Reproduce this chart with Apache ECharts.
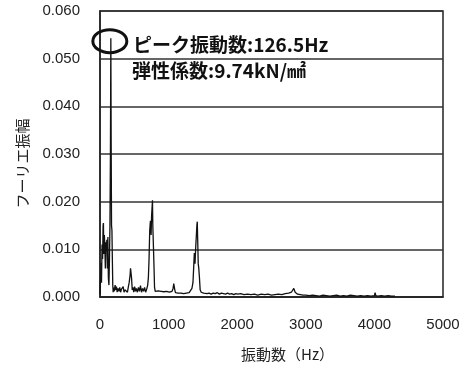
<!DOCTYPE html>
<html>
<head>
<meta charset="utf-8">
<script src="https://cdn.jsdelivr.net/npm/echarts@6/dist/echarts.min.js"></script>
<style>html,body{margin:0;padding:0;background:#fff;}#c{width:468px;height:371px;}</style>
</head>
<body>
<div id="c"></div>
<script>
const xTicks = [0, 1000, 2000, 3000, 4000, 5000];
const yTicks = [0, 0.01, 0.02, 0.03, 0.04, 0.05, 0.06];
const freqs = [0, 8, 15, 22, 30, 38, 45, 50, 56, 63, 70, 78, 85, 92, 100, 107, 115, 122, 130, 138, 145, 152, 158, 163, 168, 174, 180, 186, 192, 200, 210, 220, 230, 240, 250, 262, 275, 288, 300, 312, 325, 338, 350, 362, 375, 388, 400, 412, 425, 438, 445, 452, 460, 470, 480, 492, 505, 518, 530, 545, 560, 575, 590, 605, 620, 635, 650, 665, 680, 695, 705, 715, 725, 735, 745, 752, 758, 765, 770, 776, 782, 788, 795, 805, 815, 830, 850, 870, 890, 910, 930, 950, 970, 990, 1010, 1030, 1050, 1065, 1075, 1082, 1090, 1100, 1120, 1140, 1160, 1180, 1200, 1220, 1240, 1260, 1280, 1300, 1320, 1340, 1355, 1365, 1375, 1385, 1395, 1405, 1412, 1418, 1424, 1432, 1440, 1450, 1460, 1475, 1490, 1510, 1530, 1560, 1590, 1620, 1650, 1680, 1710, 1740, 1770, 1800, 1830, 1860, 1890, 1920, 1950, 1980, 2010, 2050, 2100, 2150, 2200, 2250, 2300, 2350, 2400, 2450, 2500, 2550, 2600, 2650, 2700, 2750, 2790, 2810, 2825, 2835, 2845, 2860, 2880, 2920, 2960, 3000, 3050, 3100, 3150, 3200, 3250, 3300, 3350, 3400, 3450, 3500, 3550, 3600, 3650, 3700, 3750, 3800, 3850, 3900, 3950, 4000, 4010, 4020, 4050, 4100, 4150, 4200, 4250, 4300];
const amps = [0.0005, 0.0040, 0.0072, 0.0030, 0.0110, 0.0080, 0.0150, 0.0155, 0.0090, 0.0130, 0.0110, 0.0060, 0.0115, 0.0100, 0.0120, 0.0060, 0.0126, 0.0040, 0.0025, 0.0080, 0.0150, 0.0300, 0.0543, 0.0320, 0.0150, 0.0140, 0.0080, 0.0025, 0.0010, 0.0020, 0.0012, 0.0025, 0.0015, 0.0022, 0.0010, 0.0018, 0.0012, 0.0020, 0.0010, 0.0016, 0.0012, 0.0022, 0.0010, 0.0015, 0.0012, 0.0018, 0.0010, 0.0020, 0.0030, 0.0045, 0.0060, 0.0064, 0.0040, 0.0015, 0.0020, 0.0010, 0.0022, 0.0012, 0.0018, 0.0010, 0.0020, 0.0012, 0.0024, 0.0010, 0.0018, 0.0012, 0.0020, 0.0010, 0.0016, 0.0025, 0.0040, 0.0080, 0.0140, 0.0160, 0.0130, 0.0170, 0.0185, 0.0203, 0.0150, 0.0120, 0.0090, 0.0060, 0.0020, 0.0012, 0.0015, 0.0010, 0.0013, 0.0009, 0.0012, 0.0008, 0.0011, 0.0009, 0.0012, 0.0008, 0.0010, 0.0009, 0.0012, 0.0018, 0.0028, 0.0032, 0.0015, 0.0009, 0.0011, 0.0008, 0.0010, 0.0008, 0.0009, 0.0007, 0.0010, 0.0008, 0.0011, 0.0009, 0.0012, 0.0018, 0.0030, 0.0060, 0.0092, 0.0070, 0.0104, 0.0130, 0.0150, 0.0158, 0.0120, 0.0070, 0.0060, 0.0040, 0.0015, 0.0010, 0.0012, 0.0008, 0.0009, 0.0007, 0.0008, 0.0006, 0.0008, 0.0007, 0.0009, 0.0006, 0.0008, 0.0007, 0.0006, 0.0008, 0.0006, 0.0007, 0.0005, 0.0007, 0.0006, 0.0007, 0.0005, 0.0006, 0.0005, 0.0006, 0.0004, 0.0006, 0.0005, 0.0006, 0.0004, 0.0005, 0.0006, 0.0005, 0.0007, 0.0008, 0.0010, 0.0012, 0.0018, 0.0014, 0.0010, 0.0007, 0.0006, 0.0005, 0.0004, 0.0004, 0.0003, 0.0004, 0.0003, 0.0002, 0.0004, 0.0003, 0.0002, 0.0003, 0.0004, 0.0002, 0.0003, 0.0002, 0.0004, 0.0003, 0.0002, 0.0003, 0.0002, 0.0003, 0.0002, 0.0003, 0.0009, 0.0003, 0.0002, 0.0003, 0.0002, 0.0003, 0.0002, 0.0002];
const peakText = 'ピーク振動数:126.5Hz';
const modulusText = '弾性係数:9.74kN/㎟';
const xName = '振動数（Hz）';
const yName = 'フーリエ振幅';

const data = freqs.map((f, i) => [f, amps[i]]);
const chart = echarts.init(document.getElementById('c'), null, {renderer: 'canvas'});
const lblFont = {fontFamily: 'Liberation Sans, Arial, sans-serif', fontSize: 15, color: '#222'};
chart.setOption({
  animation: false,
  backgroundColor: '#fff',
  grid: {left: 100, right: 25, top: 11, bottom: 74, show: true, borderColor: '#222', borderWidth: 1.5},
  xAxis: {
    type: 'value', min: xTicks[0], max: xTicks[xTicks.length - 1], interval: 1000,
    axisLine: {show: true, lineStyle: {color: '#222', width: 1.5}},
    axisTick: {show: false}, splitLine: {show: false},
    axisLabel: Object.assign({margin: 20, formatter: v => String(v)}, lblFont),
    name: xName, nameLocation: 'middle', nameGap: 50,
    nameTextStyle: {fontFamily: 'Noto Sans CJK JP', fontSize: 15, color: '#222', padding: [0, 0, 0, 32]}
  },
  yAxis: {
    type: 'value', min: yTicks[0], max: yTicks[yTicks.length - 1], interval: 0.01,
    axisLine: {show: true, lineStyle: {color: '#222', width: 1.5}},
    axisTick: {show: false},
    splitLine: {show: true, lineStyle: {color: '#333', width: 1.5}},
    axisLabel: Object.assign({margin: 20, formatter: v => v.toFixed(3)}, lblFont),
    name: yName, nameLocation: 'middle', nameGap: 70,
    nameTextStyle: {fontFamily: 'Noto Sans CJK JP', fontSize: 15, color: '#222', padding: [0, 19, 0, 0]}
  },
  series: [{
    type: 'line', data: data, showSymbol: false, symbol: 'none',
    lineStyle: {color: '#111', width: 1.3}
  }]
});
const peakIdx = amps.indexOf(Math.max.apply(null, amps));
const pk = chart.convertToPixel({gridIndex: 0}, [freqs[peakIdx], amps[peakIdx]]);
chart.setOption({
  graphic: [
    {type: 'ellipse', shape: {cx: pk[0] - 1, cy: pk[1] + 3, rx: 17, ry: 11.5},
     style: {fill: 'none', stroke: '#111', lineWidth: 3}, z: 100},
    {type: 'text', left: 133, top: 35,
     style: {text: peakText, font: 'bold 19px "Noto Sans CJK JP"', fill: '#111'}, z: 100},
    {type: 'text', left: 132, top: 61,
     style: {text: modulusText, font: 'bold 19px "Noto Sans CJK JP"', fill: '#111'}, z: 100}
  ]
});
</script>
</body>
</html>
